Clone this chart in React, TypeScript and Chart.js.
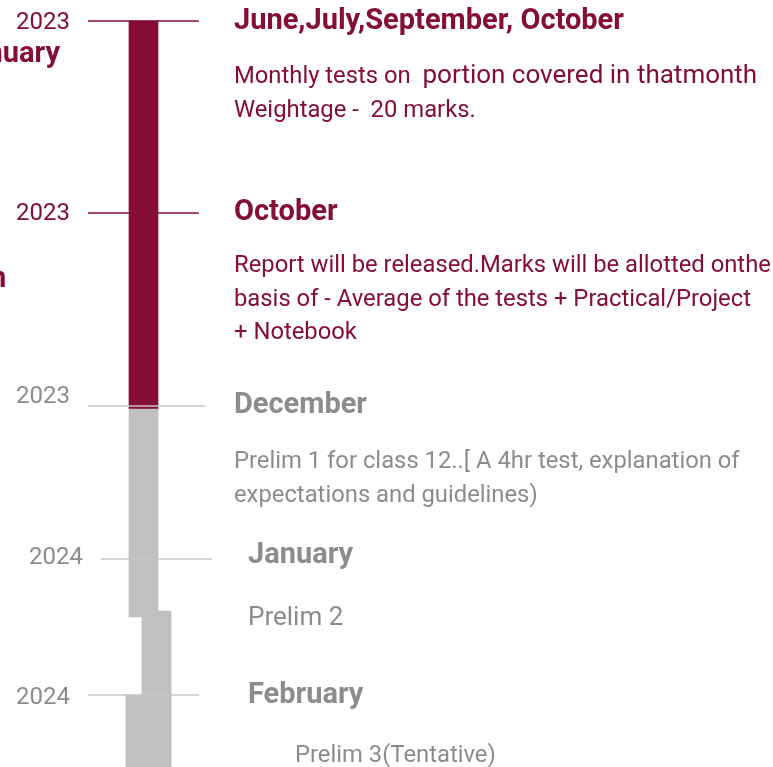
import React, { useEffect, useRef } from "react";
import { Chart, registerables } from "chart.js";

Chart.register(...registerables);

// ---------- data ----------
const eventYears = ["2023", "2023", "2023", "2024", "2024"];
const eventTitles = ["June,July,September, October", "October", "December", "January", "February"];
// each note line is a list of text runs
const eventNotes: string[][][] = [
  [["Monthly tests on  ", "portion covered in thatmonth"], ["Weightage -  20 marks."]],
  [
    ["Report will be released.Marks will be allotted onthe"],
    ["basis of - Average of the tests + Practical/Project"],
    ["+ Notebook"],
  ],
  [["Prelim 1 for class 12..[ A 4hr test, explanation of"], ["expectations and guidelines)"]],
  [["Prelim 2"]],
  [["Prelim 3(Tentative)"]],
];
const largeRuns = ["portion covered in thatmonth", "Prelim 2"];
const eventDone = [true, true, false, false, false];
// timeline position of each event (y-axis units)
const eventTimes = [21, 213, 406, 559, 695];

// timeline bar segments: [start, end] on the timeline axis
const segRanges: [number, number][] = [
  [21, 409],
  [409, 617],
  [611, 767],
  [695, 767],
];
const segDone = [true, false, false, false];

// cut-off labels of a neighbouring column
const sideLabels = ["January", "n"];
const sideTimes = [62, 287];

// ---------- layout / style ----------
const RED = "#850E35";
const GREY_TEXT = "#8C8C8C";
const GREY_BAR = "#C0C0C0";
const GREY_LINE = "#C6C6C6";
const W = 773;
const H = 767;
const segLane = [143.5, 143.5, 156.5, 148.5];
const segThick = [29, 29, 29, 45];
const tickFrom = [88, 88, 88, 101, 88];
const tickTo = [199, 199, 205, 212, 199];
const yearRight = [70, 70, 70, 83, 70];
const yearBase = [8.3, 6.5, -2.7, 5.3, 9];
const titleX = [234, 234, 234, 248, 248];
const titleBase = [8, 6.5, 7, 4, 8];
const noteX = [234, 234, 234, 248, 295];
const noteFirst = [62, 59, 62, 66, 67];
const noteGap = 33.5;
const sideAlign: CanvasTextAlign[] = ["right", "left"];
const sideX = [60, -10];
const FONT_TITLE = "700 29px Roboto";
const FONT_TEXT = "400 23.8px Roboto";
const FONT_BIG = "400 26px Roboto";
const FONT_YEAR = "400 24px Roboto";

const textPlugin = {
  id: "timelineText",
  afterDatasetsDraw(chart: any) {
    const { ctx } = chart;
    const xs = chart.scales.x;
    const ys = chart.scales.y;
    ctx.save();
    ctx.textBaseline = "alphabetic";
    eventTimes.forEach((t, i) => {
      ctx.fillStyle = eventDone[i] ? RED : GREY_TEXT;
      // year
      ctx.font = FONT_YEAR;
      ctx.textAlign = "right";
      ctx.fillText(eventYears[i], xs.getPixelForValue(yearRight[i]), ys.getPixelForValue(t + yearBase[i]));
      // title
      ctx.font = FONT_TITLE;
      ctx.textAlign = "left";
      ctx.fillText(eventTitles[i], xs.getPixelForValue(titleX[i]), ys.getPixelForValue(t + titleBase[i]));
      // notes
      eventNotes[i].forEach((runs, j) => {
        let x = xs.getPixelForValue(noteX[i]);
        const y = ys.getPixelForValue(t + noteFirst[i] + j * noteGap);
        runs.forEach((run) => {
          ctx.font = largeRuns.includes(run) ? FONT_BIG : FONT_TEXT;
          ctx.fillText(run, x, y);
          x += ctx.measureText(run).width;
        });
      });
    });
    ctx.fillStyle = RED;
    ctx.font = FONT_TITLE;
    sideLabels.forEach((s, i) => {
      ctx.textAlign = sideAlign[i];
      ctx.fillText(s, xs.getPixelForValue(sideX[i]), ys.getPixelForValue(sideTimes[i]));
    });
    ctx.restore();
  },
};

export default function App() {
  const ref = useRef<HTMLCanvasElement>(null);
  useEffect(() => {
    if (!ref.current) return;
    const barSets = segRanges.map((r, i) => ({
      type: "bar" as const,
      data: [{ x: segLane[i], y: r }],
      backgroundColor: segDone[i] ? RED : GREY_BAR,
      borderWidth: 0,
      barThickness: segThick[i],
      grouped: false,
      order: 2 + (segDone[i] ? 1 : 0),
    }));
    const tickSets = eventTimes.map((t, i) => ({
      type: "line" as const,
      data: [
        { x: tickFrom[i], y: t },
        { x: tickTo[i], y: t },
      ],
      borderColor: eventDone[i] ? RED : GREY_LINE,
      borderWidth: 1.6,
      pointRadius: 0,
      fill: false,
      order: 0,
    }));
    const chart = new Chart(ref.current, {
      type: "bar",
      data: { datasets: [...barSets, ...tickSets] as any },
      options: {
        animation: false,
        responsive: false,
        devicePixelRatio: 1,
        layout: { padding: 0 },
        plugins: { legend: { display: false }, tooltip: { enabled: false } },
        scales: {
          x: { type: "linear", min: 0, max: W, offset: false, display: false },
          y: { type: "linear", min: 0, max: H, reverse: true, display: false },
        },
      },
      plugins: [textPlugin],
    });
    return () => chart.destroy();
  }, []);
  return (
    <div style={{ position: "absolute", left: 0, top: 0, width: W, height: H, background: "#fff" }}>
      <canvas ref={ref} width={W} height={H} />
    </div>
  );
}
